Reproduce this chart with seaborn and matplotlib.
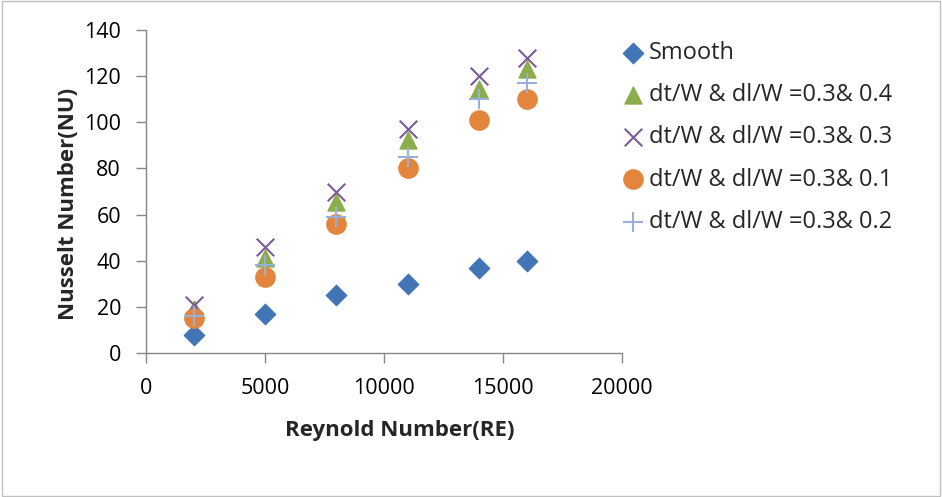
import matplotlib
matplotlib.use("Agg")
import matplotlib.pyplot as plt
import seaborn as sns
import pandas as pd

re_values = [2000, 5000, 8000, 11000, 14000, 16000]
smooth = [8, 17, 25, 30, 37, 40]
ratio_04 = [19, 41, 65.5, 92.5, 114.5, 123]
ratio_03 = [21, 46, 70, 97, 120, 128]
ratio_01 = [15, 33, 56, 80, 101, 110]
ratio_02 = [16, 38, 59, 85, 110, 117]
labels = ["Smooth", "dt/W & dl/W =0.3& 0.4", "dt/W & dl/W =0.3& 0.3",
          "dt/W & dl/W =0.3& 0.1", "dt/W & dl/W =0.3& 0.2"]

sns.set_theme(style="white")
plt.rcParams['font.family'] = ['Open Sans', 'DejaVu Sans']

series = [smooth, ratio_04, ratio_03, ratio_01, ratio_02]
styles = [
    dict(marker="D", color="#4275B6", s=110, edgecolor="#4275B6"),
    dict(marker="^", color="#8BAD4A", s=150, edgecolor="#8BAD4A"),
    dict(marker="x", color="#7B5A99", s=160, linewidth=1.5),
    dict(marker="o", color="#E3853C", s=190, edgecolor="#E3853C"),
    dict(marker="+", color="#98B1DA", s=190, linewidth=1.5),
]

fig = plt.figure(figsize=(9.42, 4.97), dpi=100)
ax = fig.add_axes([146/942, 1-353/497, (622-146)/942, (353-30)/497])

for vals, lab, st in zip(series, labels, styles):
    df = pd.DataFrame({"x": re_values, "y": vals})
    sns.scatterplot(data=df, x="x", y="y", ax=ax, label=lab, **st)

ax.set_xlim(0, 20000)
ax.set_ylim(0, 140)
ax.set_xticks([0, 5000, 10000, 15000, 20000])
ax.set_yticks(range(0, 141, 20))
ax.tick_params(axis="both", labelsize=15.5, length=7, width=1, direction="out",
               left=True, bottom=True, colors="#868686", labelcolor="black")
ax.tick_params(axis="y", pad=11)
ax.tick_params(axis="x", pad=11)
for s in ["top", "right"]:
    ax.spines[s].set_visible(False)
for s in ["left", "bottom"]:
    ax.spines[s].set_color("#868686")
    ax.spines[s].set_linewidth(1)

ax.set_xlabel("Reynold Number(RE)", fontsize=16, fontweight="bold")
ax.set_ylabel("Nusselt Number(NU)", fontsize=16, fontweight="bold")
ax.xaxis.set_label_coords(0.534, -0.207)
ax.yaxis.set_label_coords(-0.141, 0.461)

leg = ax.legend(loc="upper left", bbox_to_anchor=(618/942, 1-41/497),
                bbox_transform=fig.transFigure, frameon=False,
                fontsize=17, handletextpad=0.0, labelspacing=0.77,
                handlelength=1.3, borderaxespad=0.0, borderpad=0.0)

fig.patches.append(plt.Rectangle((0.002, 0.002), 0.996, 0.996, transform=fig.transFigure,
                                 fill=False, edgecolor="#BFBFBF", linewidth=1))
fig.savefig("out.png", dpi=100, facecolor="white")
